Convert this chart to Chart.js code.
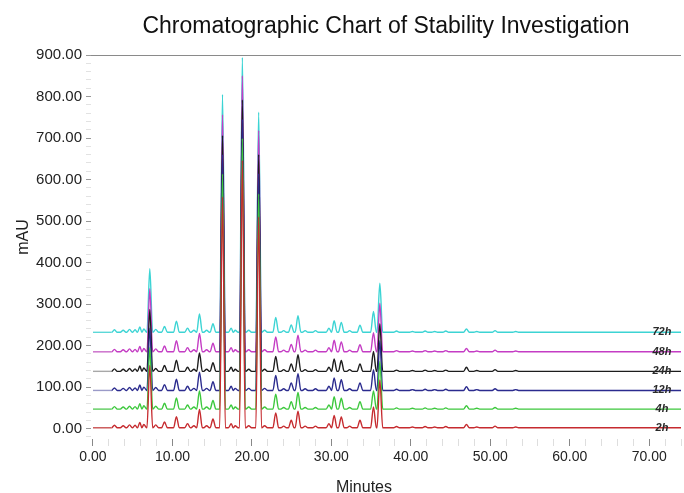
<!DOCTYPE html>
<html><head><meta charset="utf-8">
<script src="https://cdn.jsdelivr.net/npm/chart.js@4/dist/chart.umd.min.js"></script>
<style>html,body{margin:0;padding:0;background:#fff}#wrap{width:684px;height:493px;position:relative}</style>
</head><body><div id="wrap"><canvas id="c" width="684" height="493"></canvas></div>
<script>
// ---- data ----
const peakMinutes = [2.7, 3.8, 4.6, 5.3, 5.9, 6.4, 7.15, 7.9, 9.0, 10.5, 11.9, 12.7, 13.4, 14.3, 15.1,
  16.3, 17.4, 17.9, 18.8, 19.6, 20.85, 21.6, 23.0, 24.0, 24.95, 25.8, 26.7, 28.0, 29.7, 30.35, 31.25,
  32.3, 33.6, 35.3, 36.1, 38.2, 40.2, 41.8, 43.0, 44.4, 47.0, 48.3, 50.6, 53.2];

const h2h  = [6, 5, 7, 6, 13, 8, 150, 7, 14, 27, 10, 5, 44, 5, 21, 556, 10, 5, 644, 5, 508, 5, 36, 4, 18, 40, 4, 4, 10, 30, 26, 4, 18, 50, 115, 3, 2, 3, 2, 3, 8, 2, 4, 2];
const h4h  = [6, 5, 7, 6, 13, 8, 148, 7, 14, 27, 10, 5, 44, 5, 21, 566, 10, 5, 652, 5, 518, 5, 36, 4, 18, 40, 4, 4, 10, 30, 26, 4, 18, 44, 115, 3, 2, 3, 2, 3, 8, 2, 4, 2];
const h12h = [6, 5, 7, 6, 13, 8, 150, 7, 14, 27, 10, 5, 44, 5, 21, 568, 10, 5, 653, 5, 522, 5, 36, 4, 18, 40, 4, 4, 10, 30, 26, 4, 18, 50, 120, 3, 2, 3, 2, 3, 9, 2, 4, 2];
const h24h = [6, 5, 7, 6, 13, 8, 149, 7, 14, 27, 10, 5, 44, 5, 21, 568, 10, 5, 654, 5, 522, 5, 36, 4, 18, 40, 4, 4, 10, 30, 26, 4, 18, 48, 115, 3, 2, 3, 2, 3, 10, 2, 4, 2];
const h48h = [6, 5, 7, 6, 13, 8, 152, 7, 14, 27, 10, 5, 44, 5, 21, 571, 10, 5, 665, 5, 533, 5, 36, 4, 18, 40, 4, 4, 10, 28, 24, 4, 17, 46, 117, 3, 2, 3, 2, 3, 8, 2, 4, 2];
const h72h = [6, 5, 7, 6, 13, 8, 153, 7, 14, 27, 10, 5, 44, 5, 21, 573, 10, 5, 662, 5, 530, 5, 36, 4, 18, 40, 4, 4, 10, 28, 24, 4, 17, 50, 118, 3, 2, 3, 2, 3, 8, 2, 4, 2];

const baselines = [2, 47, 92, 138, 185, 232];
const seriesLabels = ['2h', '4h', '12h', '24h', '48h', '72h'];
const xTickLabels = ['0.00', '10.00', '20.00', '30.00', '40.00', '50.00', '60.00', '70.00'];
const yTickLabels = ['0.00', '100.00', '200.00', '300.00', '400.00', '500.00', '600.00', '700.00', '800.00', '900.00'];

// ---- styles ----
const lineColors = ['#c62b2f', '#3cc83c', '#2b2b8e', '#1c1c1c', '#c43cc4', '#3cd4d4'];
const headColors = ['#c85050', '#5ccc5c', '#9a9ac8', '#a8a8a8', '#c868c8', '#5cd8d8'];
const tailColors = ['#b84848', '#5ccc5c', '#7070b0', '#9a9a9a', '#c060c0', '#60d0d0'];
const X_MIN = -0.25, X_MAX = 74;

const traces = [h2h, h4h, h12h, h24h, h48h, h72h];

function buildPoints(heights, base) {
  const hw = 0.36;
  const pts = [{x: 0, y: base}];
  for (let i = 0; i < peakMinutes.length; i++) {
    const t = peakMinutes[i];
    const prev = i > 0 ? peakMinutes[i - 1] : -Infinity;
    const next = i < peakMinutes.length - 1 ? peakMinutes[i + 1] : Infinity;
    const l = Math.max(t - hw, (prev + t) / 2);
    const r = Math.min(t + hw, (t + next) / 2);
    if (pts[pts.length - 1].x < l - 1e-9) pts.push({x: l, y: base});
    pts.push({x: t, y: base + heights[i]});
    pts.push({x: r, y: base});
  }
  pts.push({x: X_MAX, y: base});
  return pts;
}

const datasets = traces.map((h, k) => ({
  label: seriesLabels[k],
  data: buildPoints(h, baselines[k]),
  borderColor: lineColors[k],
  borderWidth: 1.4,
  pointRadius: 0,
  fill: false,
  cubicInterpolationMode: 'monotone',
  segment: {
    borderColor: ctx => ctx.p1.parsed.x <= 2.5 ? headColors[k] : (ctx.p0.parsed.x >= 63 ? tailColors[k] : undefined)
  }
}));

const FONT = "'Liberation Sans', Arial, Helvetica, sans-serif";
Chart.defaults.font.family = FONT;
Chart.defaults.color = '#222';

const decor = {
  id: 'decor',
  afterDraw(chart) {
    const ctx = chart.ctx;
    const xs = chart.scales.x, ys = chart.scales.y;
    ctx.save();
    ctx.fillStyle = '#111';
    ctx.textAlign = 'center';
    ctx.textBaseline = 'alphabetic';
    ctx.font = '23px ' + FONT;
    ctx.fillText('Chromatographic Chart of Stability Investigation', 386, 33);
    ctx.font = '16px ' + FONT;
    ctx.fillStyle = '#222';
    ctx.fillText('Minutes', 364, 492);
    ctx.save();
    ctx.translate(28, 237);
    ctx.rotate(-Math.PI / 2);
    ctx.fillText('mAU', 0, 0);
    ctx.restore();
    // series labels
    ctx.font = 'italic bold 11px ' + FONT;
    ctx.fillStyle = '#2a2a2a';
    ctx.textBaseline = 'middle';
    seriesLabels.forEach((lab, k) => {
      ctx.fillText(lab, xs.getPixelForValue(71.6), ys.getPixelForValue(baselines[k]));
    });
    ctx.restore();
  }
};

new Chart(document.getElementById('c'), {
  type: 'line',
  data: {datasets},
  options: {
    responsive: false,
    animation: false,
    events: [],
    layout: {padding: {top: 55, left: 0, right: 0, bottom: 0}},
    plugins: {legend: {display: false}, tooltip: {enabled: false}, title: {display: false}},
    scales: {
      x: {
        type: 'linear', min: X_MIN, max: X_MAX,
        afterFit: s => { s.height = 54; },
        border: {display: false},
        grid: {
          drawOnChartArea: false, drawTicks: true, tickLength: 7,
          tickColor: ctx => (ctx.tick && ctx.tick.value % 10 === 0) ? '#888' : '#dedede'
        },
        ticks: {
          stepSize: 2, includeBounds: false, autoSkip: false, maxRotation: 0, padding: 3,
          font: {size: 14}, color: '#222',
          callback: v => (v % 10 === 0 && v >= 0) ? xTickLabels[v / 10] : ''
        }
      },
      y: {
        type: 'linear', min: -25, max: 900,
        afterFit: s => { s.width = 91; },
        border: {display: false},
        grid: {
          drawOnChartArea: true, drawTicks: true, tickLength: 5,
          color: ctx => (ctx.tick && ctx.tick.value === 900) ? '#8a8a8a' : 'rgba(0,0,0,0)',
          tickColor: ctx => (ctx.tick && ctx.tick.value % 100 === 0) ? '#999' : '#e2e2e2'
        },
        ticks: {
          stepSize: 20, includeBounds: false, autoSkip: false, padding: 4,
          font: {size: 15}, color: '#222',
          callback: v => (v % 100 === 0 && v >= 0) ? yTickLabels[v / 100] : ''
        }
      }
    }
  },
  plugins: [decor]
});
</script></body></html>
